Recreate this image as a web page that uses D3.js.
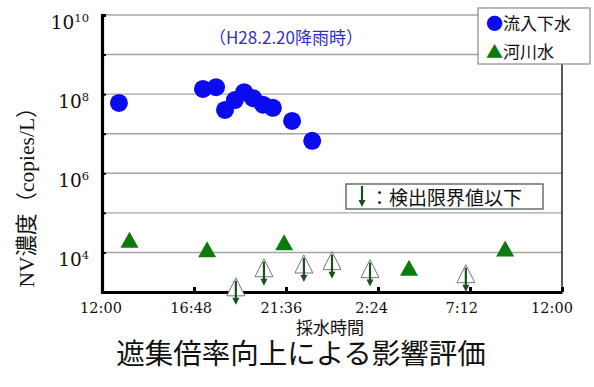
<!DOCTYPE html>
<html lang="ja">
<head>
<meta charset="utf-8">
<script src="https://cdn.jsdelivr.net/npm/d3@7"></script>
<style>
  html, body { margin: 0; padding: 0; background: #fff; }
  svg { display: block; }
</style>
</head>
<body>
<svg id="chart" width="594" height="387"></svg>
<script>
// Sampling times (clock time, 12:00 → next day 12:00) and NV concentrations (copies/L)
const sewageTimes  = ["12:53","17:16","17:57","18:25","18:56","19:25","19:53","20:24","20:55","21:55","22:58"];
const sewageValues = [6.0e7, 1.35e8, 1.5e8, 4.0e7, 7.1e7, 1.12e8, 7.9e7, 5.4e7, 4.5e7, 2.1e7, 6.6e6];

// River water, detected
const riverTimes  = ["13:26","17:29","21:30","4:01","9:02"];
const riverValues = [2.1e4, 1.2e4, 1.8e4, 4.1e3, 1.26e4];

// River water, below detection limit (plotted at the limit value)
const limitTimes  = ["18:59","20:27","22:32","0:00","1:59","6:59"];
const limitValues = [1.35e3, 4.1e3, 5.1e3, 6.2e3, 3.9e3, 2.9e3];

// Axis ticks
const xTickHours  = [0, 4.8, 9.6, 14.4, 19.2, 24];
const xTickLabels = ["12:00","16:48","21:36","2:24","7:12","12:00"];
const yGridValues = [1e4, 1e5, 1e6, 1e7, 1e8, 1e9, 1e10];
const yLabelExps  = [10, 8, 6, 4];

const legendLabels = ["流入下水", "河川水"];

// hours elapsed since 12:00
function hoursFrom(t) {
  const [h, m] = t.split(":").map(Number);
  let v = h + m / 60;
  if (v < 12) v += 24;
  return v - 12;
}

const svg = d3.select("#chart");
const BLUE = "#0b0bf0", GREEN = "#0d7a0d", DARKGREEN = "#1d4f1d";
const serif = "'DejaVu Serif', 'Liberation Serif', serif";
const sans = "'Noto Sans CJK JP', 'Noto Sans', sans-serif";

const x = d3.scaleLinear().domain([0, 24]).range([102, 562]);
const y = d3.scaleLog().domain([1e3, 1e10]).range([292, 15]);
const xLabelPos = d3.scaleLinear().domain([0, 24]).range([101, 552]);

// gridlines
svg.append("g").selectAll("line").data(yGridValues).join("line")
  .attr("x1", x(0)).attr("x2", x(24))
  .attr("y1", d => y(d)).attr("y2", d => y(d))
  .attr("stroke", "#a4a4a4").attr("stroke-width", 1.4);

// right frame
svg.append("line")
  .attr("x1", x(24)).attr("x2", x(24)).attr("y1", y(1e10)).attr("y2", y(1e3))
  .attr("stroke", "#222").attr("stroke-width", 1.5);

// left axis with inward ticks
const yAxis = d3.axisLeft(y).tickValues(yGridValues.slice(0, -1)).tickSize(-4).tickFormat("");
const gy = svg.append("g").attr("transform", `translate(${x(0)},0)`).call(yAxis);
gy.select(".domain").attr("stroke", "#000").attr("stroke-width", 3.2);
gy.selectAll(".tick line").attr("stroke", "#000").attr("stroke-width", 2);

// bottom axis with inward ticks
const xAxis = d3.axisBottom(x).tickValues(xTickHours).tickSize(-5).tickSizeOuter(0).tickFormat("");
const gx = svg.append("g").attr("transform", `translate(0,${y(1e3)})`).call(xAxis);
gx.select(".domain").attr("stroke", "#000").attr("stroke-width", 3.2);
gx.selectAll(".tick line").attr("stroke", "#000").attr("stroke-width", 3);

// y tick labels 10^n
const yl = svg.append("g").selectAll("text").data(yLabelExps).join("text")
  .attr("x", 89).attr("y", d => y(Math.pow(10, d)) + 14)
  .attr("text-anchor", "end")
  .attr("font-family", serif).attr("font-size", 18.5).attr("fill", "#111");
yl.append("tspan").text("10");
yl.append("tspan").attr("dy", -7.5).attr("font-size", 11.5).text(d => d);

// x tick labels
svg.append("g").selectAll("text").data(xTickLabels).join("text")
  .attr("x", (d, i) => xLabelPos(xTickHours[i])).attr("y", 313)
  .attr("text-anchor", "middle")
  .attr("font-family", serif).attr("font-size", 14.5).attr("fill", "#111")
  .text(d => d);

// axis titles
svg.append("text")
  .attr("transform", "translate(34,192) rotate(-90)")
  .attr("text-anchor", "middle")
  .attr("font-family", "'Liberation Serif', 'Noto Sans CJK JP', serif")
  .attr("font-size", 21.5).attr("fill", "#111")
  .text("NV濃度（copies/L）");

svg.append("text")
  .attr("x", 330).attr("y", 334).attr("text-anchor", "middle")
  .attr("font-family", sans).attr("font-size", 17).attr("fill", "#111")
  .text("採水時間");

svg.append("text")
  .attr("x", 301).attr("y", 364).attr("text-anchor", "middle")
  .attr("font-family", sans).attr("font-size", 28.5).attr("fill", "#111")
  .text("遮集倍率向上による影響評価");

// event label
svg.append("text")
  .attr("x", 286).attr("y", 44).attr("text-anchor", "middle")
  .attr("font-family", sans).attr("font-size", 17).attr("fill", "#3030c8")
  .text("（H28.2.20降雨時）");

// triangle path centered on (0,0)
function tri(w, h) {
  const p = d3.path();
  p.moveTo(0, -h / 2); p.lineTo(w / 2, h / 2); p.lineTo(-w / 2, h / 2); p.closePath();
  return p.toString();
}

// sewage inflow
svg.append("g").selectAll("circle").data(sewageTimes).join("circle")
  .attr("cx", d => x(hoursFrom(d)))
  .attr("cy", (d, i) => y(sewageValues[i]))
  .attr("r", 9).attr("fill", BLUE);

// river water, detected
svg.append("g").selectAll("path").data(riverTimes).join("path")
  .attr("transform", (d, i) => `translate(${x(hoursFrom(d))},${y(riverValues[i])})`)
  .attr("d", tri(18, 16)).attr("fill", GREEN);

// below detection limit: open triangle with downward arrow
const lim = svg.append("g").selectAll("g").data(limitTimes).join("g")
  .attr("transform", (d, i) => `translate(${x(hoursFrom(d))},${y(limitValues[i])})`);
lim.append("path").attr("d", tri(18, 18))
  .attr("fill", "#fff").attr("stroke", "#777").attr("stroke-width", 1);
lim.append("line").attr("x1", 0).attr("x2", 0).attr("y1", -6).attr("y2", 12)
  .attr("stroke", DARKGREEN).attr("stroke-width", 2.2);
lim.append("path").attr("d", "M-3.5,11L3.5,11L0,18Z").attr("fill", DARKGREEN);

// detection-limit note
const note = svg.append("g");
note.append("rect").attr("x", 346).attr("y", 184).attr("width", 197).attr("height", 25)
  .attr("fill", "#fff").attr("stroke", "#4d5e4d").attr("stroke-width", 1.3);
note.append("line").attr("x1", 362).attr("x2", 362).attr("y1", 186).attr("y2", 201)
  .attr("stroke", DARKGREEN).attr("stroke-width", 2.2);
note.append("path").attr("d", "M358.5,200L365.5,200L362,207Z").attr("fill", DARKGREEN);
note.append("text").attr("x", 370).attr("y", 205)
  .attr("font-family", sans).attr("font-size", 19).attr("fill", "#111")
  .text("：検出限界値以下");

// legend
const lg = svg.append("g");
lg.append("rect").attr("x", 478).attr("y", 8).attr("width", 112).attr("height", 56)
  .attr("fill", "#fff").attr("stroke", "#8a8a8a").attr("stroke-width", 1.2);
const markers = [{ ch: "●", color: BLUE }, { ch: "▲", color: GREEN }];
const items = lg.selectAll("text").data(legendLabels).join("text")
  .attr("x", 486).attr("y", (d, i) => 30 + i * 28)
  .attr("font-family", sans).attr("font-size", 17).attr("fill", "#111");
items.append("tspan").attr("fill", (d, i) => markers[i].color).text((d, i) => markers[i].ch);
items.append("tspan").text(d => d);
</script>
</body>
</html>
